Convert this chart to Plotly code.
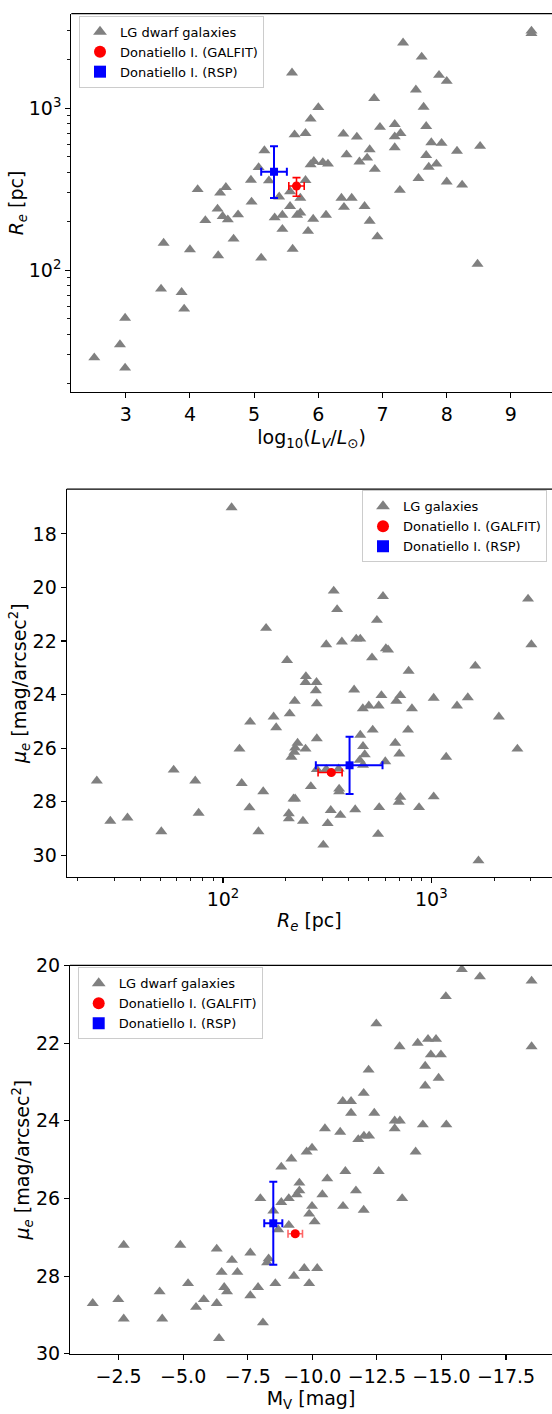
import plotly.graph_objects as go

# ---------------- data ----------------
lg1_logL = [9.32, 9.32, 7.32, 7.61, 5.59, 7.88, 8.0, 7.52, 6.87, 7.64, 6.0, 5.88, 6.96, 7.19, 7.68,
            5.63, 5.80, 6.39, 6.60, 7.28, 7.19, 7.76, 7.92, 8.52, 7.19, 6.80, 5.16, 8.16, 6.44, 7.68,
            5.93, 5.88, 6.07, 6.15, 6.64, 6.76, 7.84, 7.72, 6.88, 5.07, 4.95, 5.23, 5.80, 7.56, 8.0,
            8.24, 4.12, 4.56, 4.47, 7.27, 5.56, 5.39, 5.72, 6.36, 6.52, 4.96, 4.43, 4.51, 4.59, 4.24,
            4.75, 5.56, 5.32, 5.44, 5.67, 5.72, 5.92, 6.12, 5.44, 5.84, 6.40, 6.72, 6.80, 6.92, 4.68,
            3.59, 4.0, 4.44, 5.11, 5.60, 8.48, 3.55, 3.87, 3.91, 2.99, 2.91, 2.51, 2.99]
lg1_re = [3000, 2900, 2535, 2075, 1656, 1600, 1469, 1300, 1151, 1016, 1012, 859, 764, 796, 773,
          687, 700, 694, 665, 700, 667, 614, 608, 583, 572, 556, 548, 544, 517, 512,
          470, 449, 463, 453, 467, 493, 453, 433, 420, 431, 360, 357, 359, 369, 351,
          336, 315, 325, 300, 312, 306, 284, 279, 279, 279, 264, 239, 215, 205, 203,
          220, 248, 211, 219, 219, 226, 207, 219, 179, 174, 245, 248, 201, 161, 156,
          147, 134, 123, 119, 135, 109, 76.6, 73, 57.6, 50.6, 34.7, 28.8, 24.9]

lg2_re = [110, 340, 586, 353, 2911, 161, 548, 313, 372, 436, 456, 3020, 605, 620, 519, 203, 778, 1625, 250,
          249, 281, 279, 221, 282, 426, 576, 710, 679, 1026, 1496, 469, 501, 559, 807, 1328, 2109, 209,
          175, 135, 180, 282, 456, 523, 773, 228, 222, 249, 220, 213, 120, 470, 479, 671, 702, 1178, 2588,
          453, 470, 601, 58, 24.8, 73.6, 123, 156, 282, 313, 359, 264, 361, 361, 218, 222, 134, 710, 697,
          1026, 329, 431, 562, 873, 76.4, 207, 207, 242, 366, 318, 28.8, 34.8, 50.6, 148, 555, 303, 1683]
lg2_mu = [17.02, 20.13, 20.33, 20.82, 20.43, 21.52, 21.22, 22.13, 22.03, 21.92, 21.92, 22.13, 22.28, 22.33,
          22.62, 22.72, 23.12, 22.93, 23.32, 23.54, 23.54, 23.85, 24.24, 24.34, 23.82, 24.03, 24.03, 24.24,
          24.13, 24.11, 24.52, 24.42, 24.42, 24.52, 24.42, 24.83, 24.71, 24.83, 25.02, 25.23, 25.64, 25.51,
          25.32, 25.32, 25.81, 25.99, 26.03, 26.15, 26.33, 26.03, 25.93, 26.24, 25.81, 26.21, 26.33, 26.03,
          26.45, 26.63, 26.50, 26.81, 27.22, 27.22, 27.31, 27.62, 26.79, 26.79, 26.77, 27.43, 27.52, 27.62,
          27.89, 27.89, 28.22, 27.83, 28.01, 27.81, 28.32, 28.29, 28.21, 28.21, 28.42, 28.44, 28.63, 28.72,
          28.50, 28.81, 28.72, 28.60, 29.11, 29.11, 29.21, 29.61, 30.20]

lg3_mv = [-15.79, -16.49, -18.49, -15.17, -12.48, -13.38, -14.08, -14.48, -14.79, -18.49, -14.59, -14.98,
          -14.37, -12.18, -14.89, -14.37, -11.99, -11.18, -11.50, -11.50, -12.40, -13.19, -13.39, -13.19,
          -14.28, -15.19, -10.49, -11.08, -11.78, -12.0, -12.2, -9.99, -9.78, -14.0, -9.19, -8.80, -11.28,
          -12.57, -10.58, -9.50, -9.50, -9.40, -11.69, -10.39, -7.99, -9.09, -8.80, -13.48, -9.99, -11.19,
          -11.99, -9.88, -8.49, -10.09, -9.09, -8.68, -2.70, -4.89, -6.30, -7.60, -6.89, -8.31, -8.25,
          -6.49, -7.10, -9.69, -10.19, -9.29, -5.19, -8.57, -9.88, -6.59, -6.70, -7.90, -4.09, -7.60,
          -1.50, -2.49, -5.80, -5.50, -6.30, -2.70, -4.19, -8.09, -6.39]
lg3_mu = [20.10, 20.29, 20.40, 20.80, 21.50, 22.09, 22.0, 21.90, 21.90, 22.09, 22.30, 22.30,
          22.59, 22.69, 22.90, 23.10, 23.29, 23.50, 23.50, 23.80, 23.80, 24.0, 24.0, 24.20,
          24.10, 24.10, 24.20, 24.29, 24.48, 24.39, 24.39, 24.70, 24.80, 24.80, 24.98, 25.19, 25.30,
          25.30, 25.49, 25.60, 25.80, 25.90, 25.80, 25.90, 26.0, 26.0, 26.10, 26.0, 26.20, 26.20,
          26.30, 26.40, 26.32, 26.60, 26.69, 26.80, 27.20, 27.20, 27.30, 27.40, 27.59, 27.55, 27.65,
          27.90, 27.90, 27.80, 27.80, 28.0, 28.19, 28.19, 28.19, 28.29, 28.40, 28.29, 28.40, 28.50,
          28.70, 28.60, 28.60, 28.80, 28.70, 29.10, 29.10, 29.20, 29.60]

galfit_logL, galfit_logL_err = 5.66, 0.12
galfit_re, galfit_re_plus, galfit_re_minus = 331, 42, 45
galfit_mu, galfit_mu_err = 26.91, 0.05
galfit_mv, galfit_mv_err = -9.34, 0.28

rsp_logL, rsp_logL_err = 5.31, 0.20
rsp_re, rsp_re_plus, rsp_re_minus = 405, 178, 126
rsp_mu, rsp_mu_err = 26.64, 1.07
rsp_mv, rsp_mv_err = -8.49, 0.35

# ---------------- figure ----------------
W, H = 552, 1414
FONT = "DejaVu Sans"
GREY = "#808080"

def fx(px):
    return px / W

def fy(py):
    return 1 - py / H

fig = go.Figure()
tri = dict(symbol="triangle-up", size=10.5, color=GREY, line=dict(width=0))

def add_panel(n, lgx, lgy, lgname, gx, gy, gex, gey, rx, ry, rex, rey, red_alpha=1.0):
    xa = "x" if n == 1 else f"x{n}"
    ya = "y" if n == 1 else f"y{n}"
    leg = "legend" if n == 1 else f"legend{n}"
    fig.add_trace(go.Scatter(x=lgx, y=lgy, mode="markers", marker=tri, name=lgname,
                             xaxis=xa, yaxis=ya, legend=leg))
    rc = f"rgba(255,0,0,{red_alpha})"
    fig.add_trace(go.Scatter(x=[gx], y=[gy], mode="markers", name="Donatiello I. (GALFIT)",
                             marker=dict(symbol="circle", size=9, color="red"),
                             error_x=dict(type="data", **gex, color=rc, thickness=1.6, width=4),
                             error_y=dict(type="data", **gey, color=rc, thickness=1.6, width=4),
                             xaxis=xa, yaxis=ya, legend=leg))
    fig.add_trace(go.Scatter(x=[rx], y=[ry], mode="markers", name="Donatiello I. (RSP)",
                             marker=dict(symbol="square", size=8, color="blue"),
                             error_x=dict(type="data", **rex, color="blue", thickness=2, width=4),
                             error_y=dict(type="data", **rey, color="blue", thickness=2, width=4),
                             xaxis=xa, yaxis=ya, legend=leg))

add_panel(1, lg1_logL, lg1_re, "LG dwarf galaxies",
          galfit_logL, galfit_re,
          dict(array=[galfit_logL_err]),
          dict(array=[galfit_re_plus], arrayminus=[galfit_re_minus], symmetric=False),
          rsp_logL, rsp_re,
          dict(array=[rsp_logL_err]),
          dict(array=[rsp_re_plus], arrayminus=[rsp_re_minus], symmetric=False))
add_panel(2, lg2_re, lg2_mu, "LG galaxies",
          galfit_re, galfit_mu,
          dict(array=[galfit_re_plus], arrayminus=[galfit_re_minus], symmetric=False),
          dict(array=[galfit_mu_err]),
          rsp_re, rsp_mu,
          dict(array=[rsp_re_plus], arrayminus=[rsp_re_minus], symmetric=False),
          dict(array=[rsp_mu_err]))
add_panel(3, lg3_mv, lg3_mu, "LG dwarf galaxies",
          galfit_mv, galfit_mu,
          dict(array=[galfit_mv_err]),
          dict(array=[galfit_mu_err]),
          rsp_mv, rsp_mu,
          dict(array=[rsp_mv_err]),
          dict(array=[rsp_mu_err]), red_alpha=0.6)

tickfont = dict(family=FONT, size=19, color="black")
titlefont = dict(family=FONT, size=19, color="black")
common = dict(showline=True, linecolor="black", linewidth=1.1, ticks="outside", ticklen=5,
              tickwidth=1.1, tickcolor="black", showgrid=False, zeroline=False,
              tickfont=tickfont, mirror=False, showspikes=False)
log_minor = [20, 30, 40, 50, 60, 70, 80, 90, 200, 300, 400, 500, 600, 700, 800, 900, 2000, 3000, 4000, 5000]
minor = dict(ticks="outside", ticklen=3, tickwidth=0.9, tickcolor="black", tickmode="array", tickvals=log_minor)
mv_ticks = [-2.5, -5.0, -7.5, -10.0, -12.5, -15.0, -17.5]
mv_labels = ["\u22122.5", "\u22125.0", "\u22127.5", "\u221210.0", "\u221212.5", "\u221215.0", "\u221217.5"]

# pixel frames of the three panels (left, top, bottom)
P1 = (71.3, 2.7, 387.3)
P2 = (66.7, 485.7, 880.0)
P3 = (70.0, 969.5, 1364.0)

fig.update_layout(
    width=W, height=H, margin=dict(l=0, r=0, t=0, b=0),
    paper_bgcolor="white", plot_bgcolor="white",
    font=dict(family=FONT, color="black"),
    hovermode=False,
    xaxis=dict(**common, domain=[fx(P1[0]), 1.0], anchor="y", range=[2.152, 9.64],
               tickvals=[3, 4, 5, 6, 7, 8, 9],
               title=dict(text="log<sub>10</sub>(<i>L<sub>V</sub></i>/<i>L</i><sub>\u2299</sub>)",
                          font=titlefont, standoff=6)),
    yaxis=dict(**common, domain=[fy(P1[2]), fy(P1[1])], anchor="x", type="log", range=[1.246, 3.584],
               tickvals=[100, 1000], ticktext=["10<sup>2</sup>", "10<sup>3</sup>"], minor=minor,
               title=dict(text="<i>R<sub>e</sub></i> [pc]", font=titlefont, standoff=0)),
    xaxis2=dict(**common, domain=[fx(P2[0]), 1.0], anchor="y2", type="log", range=[1.250, 3.579],
                tickvals=[100, 1000], ticktext=["10<sup>2</sup>", "10<sup>3</sup>"], minor=minor,
                title=dict(text="<i>R<sub>e</sub></i> [pc]", font=titlefont, standoff=4)),
    yaxis2=dict(**common, domain=[fy(P2[2]), fy(P2[1])], anchor="x2", range=[30.82, 16.33],
                tickvals=[18, 20, 22, 24, 26, 28, 30],
                title=dict(text="<i>\u03bc<sub>e</sub></i> [mag/arcsec<sup>2</sup>]", font=titlefont, standoff=0)),
    xaxis3=dict(**common, domain=[fx(P3[0]), 1.0], anchor="y3", range=[-0.62, -19.28],
                tickvals=mv_ticks, ticktext=mv_labels,
                title=dict(text="M<sub>V</sub> [mag]", font=titlefont, standoff=4)),
    yaxis3=dict(**common, domain=[fy(P3[2]), fy(P3[1])], anchor="x3", range=[30, 20],
                tickvals=[20, 22, 24, 26, 28, 30],
                title=dict(text="<i>\u03bc<sub>e</sub></i> [mag/arcsec<sup>2</sup>]", font=titlefont, standoff=0)),
)

# the frame's right side lies on the canvas edge in the original: keep that strip blank,
# then draw the top spine of each panel
for left, top, bottom in (P1, P2, P3):
    fig.add_shape(type="rect", xref="paper", yref="paper", x0=fx(548.5), x1=1.0,
                  y0=fy(bottom - 1), y1=fy(top + 1), fillcolor="white", line=dict(width=0), layer="above")
    fig.add_shape(type="line", xref="paper", yref="paper", x0=fx(left), x1=1.0, y0=fy(top), y1=fy(top),
                  line=dict(color="black", width=1.1), layer="above")

legstyle = dict(bgcolor="rgba(255,255,255,0.85)", bordercolor="#cccccc", borderwidth=1,
                font=dict(family=FONT, size=13, color="black"), itemsizing="constant",
                tracegroupgap=0)
fig.update_layout(
    legend=dict(**legstyle, x=fx(79), y=fy(5), xanchor="left", yanchor="top"),
    legend2=dict(**legstyle, x=fx(547), y=fy(487), xanchor="right", yanchor="top"),
    legend3=dict(**legstyle, x=fx(77.7), y=fy(971.5), xanchor="left", yanchor="top"),
)

fig.write_html("out.html", config={"displayModeBar": False, "staticPlot": True},
               post_script="document.body.style.margin='0';document.body.style.overflow='hidden';")
